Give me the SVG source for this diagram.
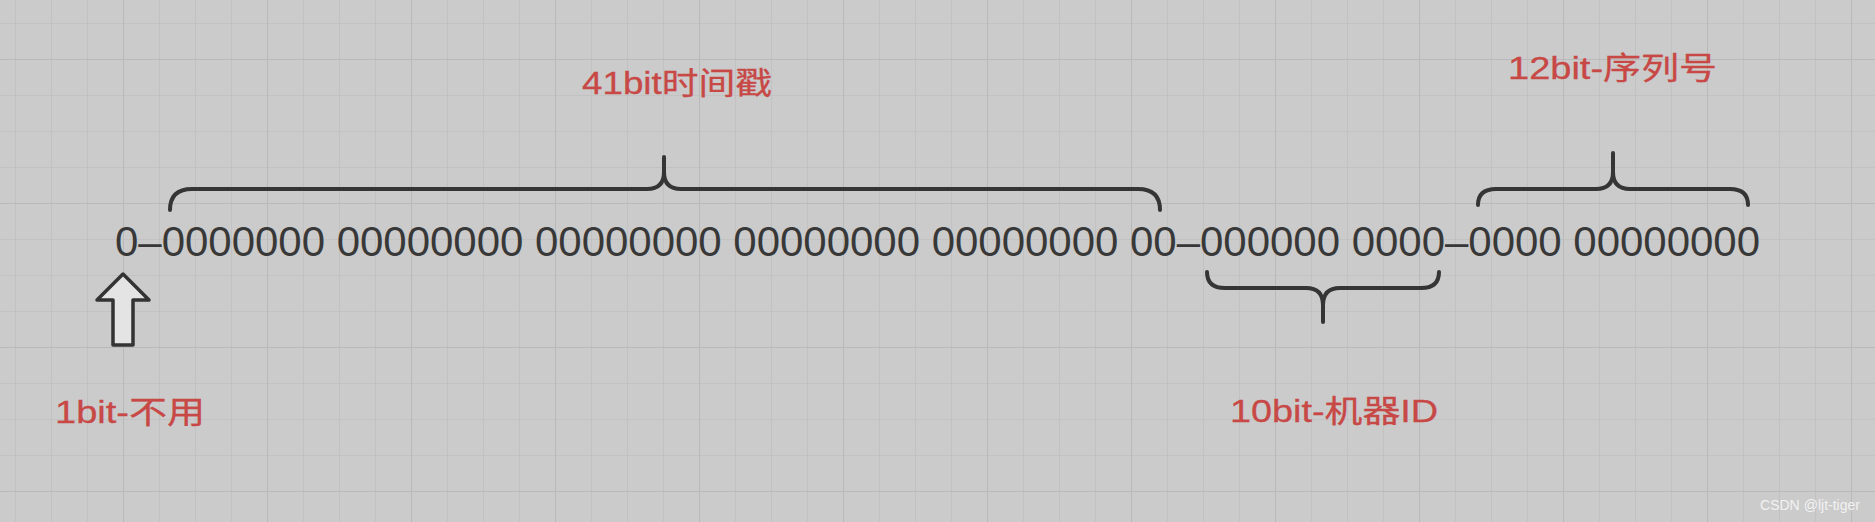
<svg xmlns="http://www.w3.org/2000/svg" width="1875" height="522" viewBox="0 0 1875 522">
  <style>
    .bits { font-family: "Liberation Sans", Arial, sans-serif; font-size: 42px; fill: #383838; }
    .label { font-family: "Liberation Sans", "Noto Sans CJK SC", sans-serif; font-size: 31px; font-weight: normal; fill: #c74845; stroke: #c74845; stroke-width: 0.3; }
    .brace { fill: none; stroke: #353535; stroke-width: 4; stroke-linecap: round; stroke-linejoin: round; }
    .arrow { fill: #e4e4e4; stroke: #333333; stroke-width: 3.5; stroke-linejoin: round; }
    .wm { font-family: "Liberation Sans", Arial, sans-serif; font-size: 15px; fill: #f2f2f2; }
  </style>
  <defs>
    <pattern id="minor" patternUnits="userSpaceOnUse" x="15" y="23" width="36" height="36">
      <path d="M0,0 H36 M0,0 V36" fill="none" stroke="#c0c0c0" stroke-width="1.5"/>
    </pattern>
    <pattern id="major" patternUnits="userSpaceOnUse" x="123" y="59" width="144" height="144">
      <path d="M0,0 H144 M0,0 V144" fill="none" stroke="#b9b9b9" stroke-width="2"/>
    </pattern>
  </defs>

  <rect x="0" y="0" width="1875" height="522" fill="#cbcbcb"/>
  <rect x="0" y="0" width="1875" height="522" fill="url(#minor)"/>
  <rect x="0" y="0" width="1875" height="522" fill="url(#major)"/>

  <g id="bits">
    <text class="bits" x="115" y="256" textLength="1645" lengthAdjust="spacing">0–0000000 00000000 00000000 00000000 00000000 00–000000 0000–0000 00000000</text>
  </g>

  <g id="connectors">
    <path class="brace" d="M170,210 Q170,189 192,189 H647 Q664,189 664,172 V157 M664,172 Q664,189 681,189 H1138 Q1160,189 1160,210"/>
    <path class="brace" d="M1478,205 Q1478,189 1496,189 H1596 Q1613,189 1613,172 V153 M1613,172 Q1613,189 1630,189 H1730 Q1748,189 1748,205"/>
    <path class="brace" d="M1207,272 Q1207,288 1225,288 H1306 Q1323,288 1323,305 V322 M1323,305 Q1323,288 1340,288 H1421 Q1439,288 1439,272"/>
    <path class="arrow" d="M123,274 L149,300 L133,300 L133,345 L113,345 L113,300 L97,300 Z"/>
  </g>

  <g id="label-41bit">
    <text class="label" x="582" y="94" textLength="190" lengthAdjust="spacingAndGlyphs">41bit时间戳</text>
  </g>
  <g id="label-12bit">
    <text class="label" x="1508" y="79" textLength="209" lengthAdjust="spacingAndGlyphs">12bit-序列号</text>
  </g>
  <g id="label-1bit">
    <text class="label" x="55" y="423" textLength="150" lengthAdjust="spacingAndGlyphs">1bit-不用</text>
  </g>
  <g id="label-10bit">
    <text class="label" x="1230" y="422" textLength="208" lengthAdjust="spacingAndGlyphs">10bit-机器ID</text>
  </g>

  <text class="wm" x="1760" y="510" textLength="100" lengthAdjust="spacingAndGlyphs">CSDN @ljt-tiger</text>
</svg>
